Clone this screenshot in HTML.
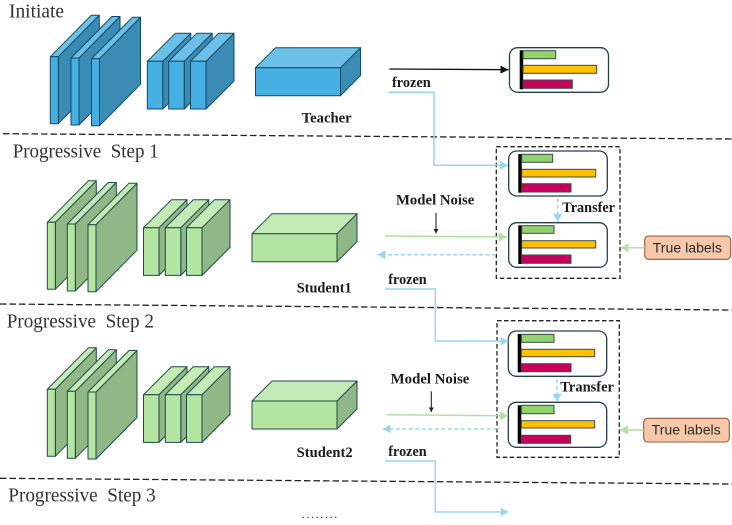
<!DOCTYPE html>
<html>
<head>
<meta charset="utf-8">
<style>
html,body{margin:0;padding:0;background:#fff;}
svg{display:block;}
text{font-family:"Liberation Serif",serif;fill:#1c1c1c;}
.h{font-size:19.5px;fill:#333;}
.b{font-size:14.5px;font-weight:bold;}
.s{font-family:"Liberation Sans",sans-serif;font-size:14px;fill:#2b2b2b;}
.dash{fill:none;stroke:#222;stroke-width:1.3;stroke-dasharray:6.5 3;}
.blue{fill:none;stroke:#9ad6f0;stroke-width:1.5;}
.grn{fill:none;stroke:#b2e0a0;stroke-width:1.5;}
.bd{fill:none;stroke:#9ad6f0;stroke-width:1.5;stroke-dasharray:4 2.5;}
.T{--f:#45b0e1;--t:#6cc0e8;--d:#3a8cb5;--k:#124a63;}
.S{--f:#b4e5a2;--t:#c4ebb6;--d:#90b886;--k:#1e4a48;}
.f{fill:var(--f);stroke:var(--k);stroke-width:1;stroke-linejoin:round;}
.t{fill:var(--t);stroke:var(--k);stroke-width:1;stroke-linejoin:round;}
.d{fill:var(--d);stroke:var(--k);stroke-width:1;stroke-linejoin:round;}
.card{fill:#fff;stroke:#24404c;stroke-width:1.3;}
.bar{stroke:#3a4a4a;stroke-width:1;}
</style>
</head>
<body>
<svg width="732" height="525" viewBox="0 0 732 525" xmlns="http://www.w3.org/2000/svg">
<defs>
<g id="pl">
<polygon class="d" points="8,0 49,-41.5 49,25.5 8,67"/>
<polygon class="t" points="0,0 41,-41.5 49,-41.5 8,0"/>
<rect class="f" x="0" y="0" width="8" height="67"/>
</g>
<g id="md">
<polygon class="d" points="15.5,0 43.5,-28 43.5,19.7 15.5,47.7"/>
<polygon class="t" points="0,0 28,-28 43.5,-28 15.5,0"/>
<rect class="f" x="0" y="0" width="15.5" height="47.7"/>
</g>
<g id="bx">
<polygon class="d" points="85,0 105,-20 105,8 85,28"/>
<polygon class="t" points="0,0 20,-20 105,-20 85,0"/>
<rect class="f" x="0" y="0" width="85" height="28"/>
</g>
<marker id="ab" markerUnits="userSpaceOnUse" markerWidth="9" markerHeight="10" refX="8" refY="4.5" orient="auto"><path d="M0,0L8,4.5L0,9Z" fill="#9ad6f0"/></marker>
<marker id="ag" markerUnits="userSpaceOnUse" markerWidth="9" markerHeight="10" refX="8" refY="4.5" orient="auto"><path d="M0,0L8,4.5L0,9Z" fill="#b2e0a0"/></marker>
<marker id="ak" markerUnits="userSpaceOnUse" markerWidth="9" markerHeight="8" refX="8" refY="4" orient="auto"><path d="M0,0L8,4L0,8Z" fill="#111"/></marker>
<marker id="as" markerUnits="userSpaceOnUse" markerWidth="5" markerHeight="6" refX="4.5" refY="2.5" orient="auto"><path d="M0,0L4.5,2.5L0,5Z" fill="#222"/></marker>
</defs>

<!-- section dividers -->
<line class="dash" x1="3" y1="133.7" x2="732" y2="139"/>
<line class="dash" x1="0" y1="304" x2="732" y2="310"/>
<line class="dash" x1="0" y1="478.3" x2="732" y2="484"/>

<!-- headings -->
<text class="h" x="9" y="17.3" textLength="55" lengthAdjust="spacingAndGlyphs">Initiate</text>
<text class="h" x="12.7" y="157.3" textLength="146" lengthAdjust="spacingAndGlyphs" xml:space="preserve">Progressive  Step 1</text>
<text class="h" x="6.7" y="327.3" textLength="147.3" lengthAdjust="spacingAndGlyphs" xml:space="preserve">Progressive  Step 2</text>
<text class="h" x="8.3" y="501.3" textLength="147.4" lengthAdjust="spacingAndGlyphs" xml:space="preserve">Progressive  Step 3</text>
<text x="301.7" y="518" textLength="35.6" style="font-size:12px;">........</text>

<!-- teacher -->
<g class="T">
<use href="#pl" x="50.3" y="56.7"/>
<use href="#pl" x="71" y="58"/>
<use href="#pl" x="91.5" y="58.7"/>
<use href="#md" x="147.3" y="61.3"/>
<use href="#md" x="168.7" y="61.3"/>
<use href="#md" x="190.5" y="61.3"/>
<use href="#bx" x="255.5" y="67.7"/>
</g>
<text class="b" x="301.7" y="122.3" textLength="50" lengthAdjust="spacingAndGlyphs">Teacher</text>

<!-- student 1 -->
<g class="S">
<use href="#pl" x="47.3" y="222.3"/>
<use href="#pl" x="67.3" y="224"/>
<use href="#pl" x="88" y="224.7"/>
<use href="#md" x="143.5" y="227.7"/>
<use href="#md" x="165.3" y="227.7"/>
<use href="#md" x="186.5" y="227.7"/>
<use href="#bx" x="252" y="233.7"/>
</g>
<text class="b" x="296.7" y="292.3" textLength="55" lengthAdjust="spacingAndGlyphs">Student1</text>

<!-- student 2 -->
<g class="S">
<use href="#pl" x="47.3" y="389.3"/>
<use href="#pl" x="67.3" y="391.3"/>
<use href="#pl" x="88" y="392"/>
<use href="#md" x="143.5" y="394.7"/>
<use href="#md" x="165.3" y="394.7"/>
<use href="#md" x="186.5" y="394.7"/>
<use href="#bx" x="252" y="401"/>
</g>
<text class="b" x="296.7" y="457" textLength="56" lengthAdjust="spacingAndGlyphs">Student2</text>

<!-- chart 0 -->
<rect class="card" x="509.5" y="47.7" width="99" height="44.6" rx="8"/>
<rect x="519.7" y="50.3" width="3.5" height="39" fill="#000"/>
<rect class="bar" x="523" y="50.7" width="32.7" height="8" fill="#92d36e"/>
<rect class="bar" x="523" y="65.3" width="73.7" height="8" fill="#ffc000"/>
<rect class="bar" x="523" y="80" width="49.3" height="8.3" fill="#c8005c"/>

<!-- chart 1 -->
<rect class="card" x="508.7" y="151" width="98.6" height="45" rx="8"/>
<rect x="518.3" y="154" width="3.5" height="38.7" fill="#000"/>
<rect class="bar" x="521.7" y="154.3" width="31" height="8" fill="#92d36e"/>
<rect class="bar" x="521.7" y="169.3" width="74" height="7.7" fill="#ffc000"/>
<rect class="bar" x="521.7" y="183.7" width="49.3" height="8.3" fill="#c8005c"/>

<!-- chart 2 -->
<rect class="card" x="508.7" y="222.7" width="98.6" height="44.6" rx="8"/>
<rect x="518.3" y="225.3" width="3.5" height="38.7" fill="#000"/>
<rect class="bar" x="521.7" y="225.7" width="32.3" height="7.6" fill="#92d36e"/>
<rect class="bar" x="521.7" y="240.7" width="74" height="7.3" fill="#ffc000"/>
<rect class="bar" x="521.7" y="255" width="49.3" height="8.3" fill="#c8005c"/>

<!-- chart 3 -->
<rect class="card" x="508.3" y="331" width="98.4" height="45.3" rx="8"/>
<rect x="517.7" y="334" width="3.6" height="38.3" fill="#000"/>
<rect class="bar" x="521.3" y="334.3" width="32.7" height="8" fill="#92d36e"/>
<rect class="bar" x="521.3" y="349.3" width="73.4" height="7.4" fill="#ffc000"/>
<rect class="bar" x="521.3" y="363.7" width="49.7" height="8" fill="#c8005c"/>

<!-- chart 4 -->
<rect class="card" x="508.3" y="402.3" width="98.4" height="45" rx="8"/>
<rect x="517.7" y="405.3" width="3.6" height="38.4" fill="#000"/>
<rect class="bar" x="521.3" y="405.3" width="32.7" height="8.4" fill="#92d36e"/>
<rect class="bar" x="521.3" y="420.7" width="73.4" height="7.3" fill="#ffc000"/>
<rect class="bar" x="521.3" y="435.3" width="49.4" height="8" fill="#c8005c"/>

<!-- dashed groups -->
<rect class="dash" x="496.3" y="146.7" width="123.7" height="131.6" style="stroke-dasharray:4.5 2.5"/>
<rect class="dash" x="497" y="320.7" width="122.3" height="136.6" style="stroke-dasharray:4.5 2.5"/>

<!-- connectors -->
<line x1="389.3" y1="69" x2="508.5" y2="69.7" stroke="#111" stroke-width="1.3" marker-end="url(#ak)"/>
<text class="b" x="392" y="87" textLength="38.7" lengthAdjust="spacingAndGlyphs">frozen</text>
<polyline class="blue" points="388.3,92.3 434,92.3 434,165.3 508,165.3" marker-end="url(#ab)"/>

<text class="b" x="396" y="204.7" textLength="78.3" lengthAdjust="spacingAndGlyphs">Model Noise</text>
<line x1="436" y1="212.7" x2="436" y2="233.5" stroke="#222" stroke-width="1.1" marker-end="url(#as)"/>
<line class="grn" x1="385" y1="236" x2="507" y2="237" marker-end="url(#ag)"/>
<line class="bd" x1="496" y1="254.7" x2="377.5" y2="254.7" marker-end="url(#ab)"/>
<line class="bd" x1="557.7" y1="198.3" x2="557.7" y2="221.7" marker-end="url(#ab)"/>
<text class="b" x="562.3" y="212" textLength="52.7" lengthAdjust="spacingAndGlyphs">Transfer</text>
<rect x="644.7" y="236" width="86" height="23.3" rx="4" fill="#f6c7a9" stroke="#8e5b3c" stroke-width="1.1"/>
<text class="s" x="652.7" y="252.3" textLength="69.3" lengthAdjust="spacingAndGlyphs">True labels</text>
<line class="grn" x1="644.7" y1="247.7" x2="620.5" y2="247.7" marker-end="url(#ag)"/>

<text class="b" x="388.3" y="284" textLength="38.4" lengthAdjust="spacingAndGlyphs">frozen</text>
<polyline class="blue" points="385,289 435.3,289 435.3,341 508.3,341" marker-end="url(#ab)"/>

<text class="b" x="390.7" y="383.7" textLength="78.6" lengthAdjust="spacingAndGlyphs">Model Noise</text>
<line x1="431.3" y1="391.3" x2="431.3" y2="412" stroke="#222" stroke-width="1.1" marker-end="url(#as)"/>
<line class="grn" x1="386.7" y1="414.7" x2="508" y2="415.7" marker-end="url(#ag)"/>
<line class="bd" x1="497.3" y1="429" x2="382.7" y2="429" marker-end="url(#ab)"/>
<line class="bd" x1="557" y1="379.3" x2="557" y2="401.7" marker-end="url(#ab)"/>
<text class="b" x="560.3" y="391.7" textLength="53.7" lengthAdjust="spacingAndGlyphs">Transfer</text>
<rect x="643.7" y="418.3" width="85.6" height="23.7" rx="4" fill="#f6c7a9" stroke="#8e5b3c" stroke-width="1.1"/>
<text class="s" x="651.7" y="434.3" textLength="69" lengthAdjust="spacingAndGlyphs">True labels</text>
<line class="grn" x1="643.7" y1="430" x2="619.8" y2="430" marker-end="url(#ag)"/>

<text class="b" x="388.3" y="456" textLength="38.4" lengthAdjust="spacingAndGlyphs">frozen</text>
<polyline class="blue" points="385,461 435.3,461 435.3,512 508.3,512" marker-end="url(#ab)"/>
</svg>
</body>
</html>
